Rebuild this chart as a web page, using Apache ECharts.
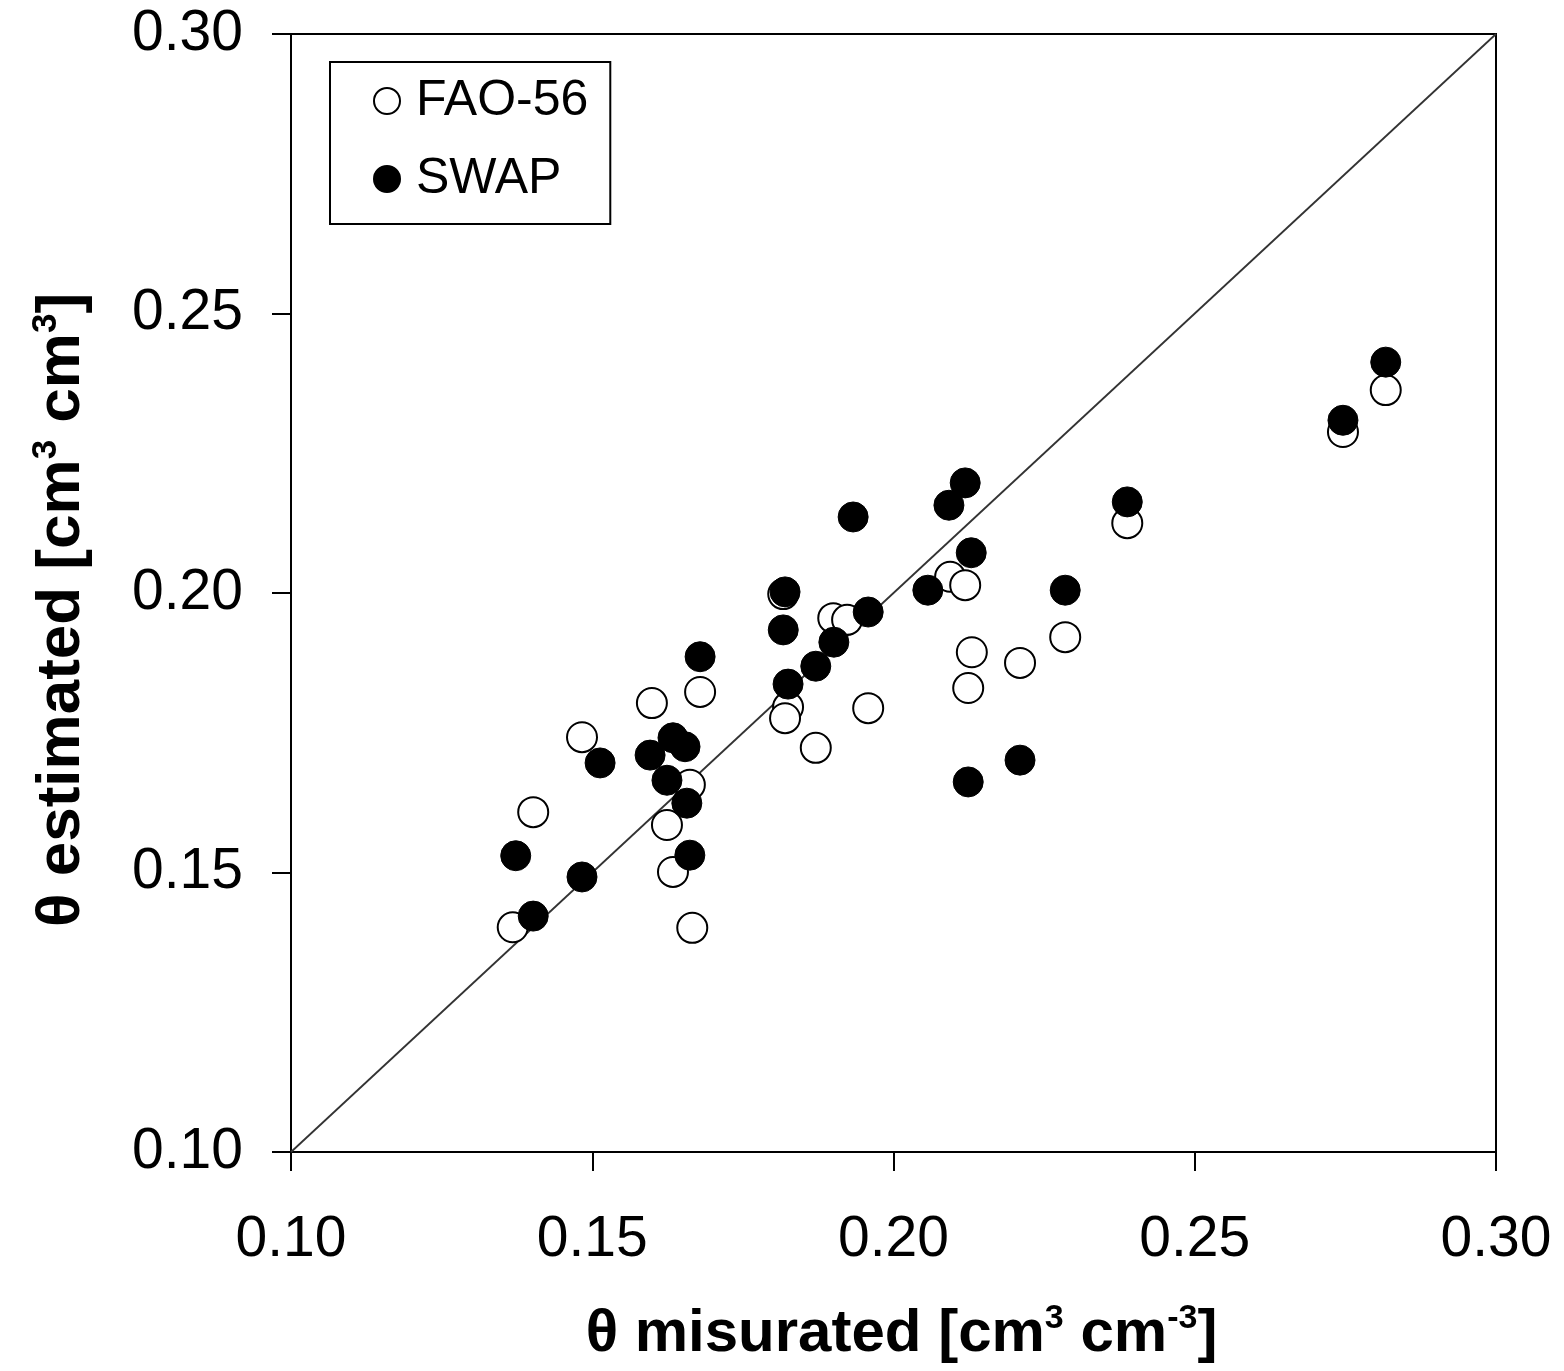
<!DOCTYPE html>
<html>
<head>
<meta charset="utf-8">
<script src="https://cdn.jsdelivr.net/npm/echarts@6/dist/echarts.min.js"></script>
<style>html,body{margin:0;padding:0;background:#fff;}#c{width:1564px;height:1371px;}</style>
</head>
<body>
<div id="c"></div>
<script>
// FAO-56 estimates: [measured, estimated]
const faoData = [
  [0.1368,0.1402],[0.1402,0.1608],[0.1483,0.1742],[0.1599,0.1803],[0.1679,0.1823],
  [0.1624,0.1585],[0.1662,0.1657],[0.1634,0.1501],[0.1666,0.1401],[0.1900,0.1955],
  [0.1923,0.1952],[0.1825,0.1796],[0.1820,0.1776],[0.1958,0.1794],[0.1871,0.1723],
  [0.2094,0.2029],[0.2119,0.2014],[0.2130,0.1894],[0.2124,0.1830],[0.2210,0.1875],
  [0.2285,0.1921],[0.2388,0.2125],[0.2746,0.2288],[0.2817,0.2363],[0.1817,0.1998]
];
// SWAP estimates: [measured, estimated]
const swapData = [
  [0.1373,0.1530],[0.1402,0.1422],[0.1483,0.1492],[0.1513,0.1696],[0.1596,0.1710],
  [0.1634,0.1741],[0.1654,0.1725],[0.1624,0.1665],[0.1657,0.1624],[0.1662,0.1531],
  [0.1679,0.1886],[0.2119,0.2197],[0.2092,0.2157],[0.1933,0.2136],[0.2129,0.2072],
  [0.2057,0.2005],[0.2285,0.2005],[0.1820,0.2002],[0.1817,0.1934],[0.1958,0.1966],
  [0.1901,0.1912],[0.1871,0.1869],[0.1825,0.1837],[0.2210,0.1701],[0.2124,0.1662],
  [0.2388,0.2163],[0.2746,0.2309],[0.2817,0.2413]
];
// 1:1 reference line
const oneToOne = [[0.1,0.1],[0.3,0.3]];
const axisMin = 0.10, axisMax = 0.30, axisStep = 0.05;
const seriesNames = ['FAO-56','SWAP'];

const chart = echarts.init(document.getElementById('c'), null, {renderer:'canvas'});
const fontFam = '"Liberation Sans", Arial, sans-serif';
function titleRich(size, supSize, supRaise) {
  return {
    t: {fontSize: size, fontWeight: 'bold', fontFamily: fontFam, color: '#000'},
    s: {fontSize: supSize, fontWeight: 'bold', fontFamily: fontFam, color: '#000', padding: [0,0,supRaise,0]}
  };
}
chart.setOption({
  animation: false,
  backgroundColor: '#fff',
  grid: {left: 291, top: 34, width: 1205, height: 1118, outerBoundsMode: 'none', containLabel: false,
         show: true, borderColor: '#000', borderWidth: 2, backgroundColor: 'transparent'},
  legend: {
    left: 330, top: 62, orient: 'vertical',
    data: seriesNames,
    itemWidth: 26, itemHeight: 26, itemGap: 28,
    padding: [14, 22, 20, 43],
    borderColor: '#000', borderWidth: 2,
    textStyle: {fontSize: 50, fontFamily: fontFam, color: '#000', lineHeight: 50, padding: [0,0,0,11]}
  },
  xAxis: {
    type: 'value', min: axisMin, max: axisMax, interval: axisStep,
    axisLine: {show: true, onZero: false, lineStyle: {color: '#000', width: 2}},
    axisTick: {show: true, length: 19, lineStyle: {color: '#000', width: 2}},
    splitLine: {show: false},
    axisLabel: {fontSize: 57, fontFamily: fontFam, color: '#000', margin: 60, formatter: v => v.toFixed(2)},
    name: '{t|θ misurated [cm}{s|3}{t| cm}{s|-3}{t|]}',
    nameLocation: 'middle', nameGap: 150,
    nameTextStyle: {rich: titleRich(60, 34, 30), padding: [0, 0, 0, 16]}
  },
  yAxis: {
    type: 'value', min: axisMin, max: axisMax, interval: axisStep,
    axisLine: {show: true, onZero: false, lineStyle: {color: '#000', width: 2}},
    axisTick: {show: true, length: 19, lineStyle: {color: '#000', width: 2}},
    splitLine: {show: false},
    axisLabel: {fontSize: 57, fontFamily: fontFam, color: '#000', margin: 48, formatter: v => v.toFixed(2)},
    name: '{t|θ estimated [cm}{s|3}{t| cm}{s|3}{t|]}',
    nameLocation: 'middle', nameGap: 196, nameRotate: 90,
    nameTextStyle: {rich: titleRich(62, 35, 31), padding: [0, 34, 0, 0]}
  },
  series: [
    {
      name: 'oneToOne', type: 'line', data: oneToOne, symbol: 'none', silent: true,
      lineStyle: {color: '#333', width: 1.8}, z: 1
    },
    {
      name: 'FAO-56', type: 'scatter', data: faoData, symbol: 'circle', symbolSize: 30,
      itemStyle: {color: '#fff', borderColor: '#000', borderWidth: 2, opacity: 1}, z: 2
    },
    {
      name: 'SWAP', type: 'scatter', data: swapData, symbol: 'circle', symbolSize: 30,
      itemStyle: {color: '#000', borderColor: '#000', borderWidth: 1, opacity: 1}, z: 3
    }
  ]
});
</script>
</body>
</html>
